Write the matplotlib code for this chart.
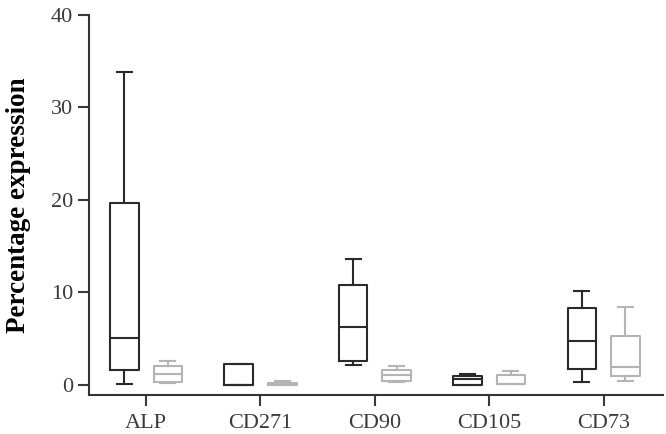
import matplotlib
matplotlib.use("Agg")
import matplotlib.pyplot as plt

# Marker categories
markers = ["ALP", "CD271", "CD90", "CD105", "CD73"]

# Box statistics: black series
black_low = [0.1, 0.0, 2.1, 0.0, 0.3]
black_q1 = [1.6, 0.0, 2.6, 0.0, 1.7]
black_med = [5.1, 0.0, 6.2, 0.6, 4.7]
black_q3 = [19.6, 2.2, 10.8, 1.0, 8.3]
black_high = [33.8, 2.2, 13.6, 1.2, 10.1]

# grey series
grey_low = [0.2, 0.0, 0.3, 0.1, 0.4]
grey_q1 = [0.3, 0.0, 0.4, 0.1, 0.9]
grey_med = [1.2, 0.1, 1.1, 0.1, 1.9]
grey_q3 = [2.0, 0.2, 1.6, 1.1, 5.3]
grey_high = [2.6, 0.4, 2.0, 1.5, 8.4]

BLACK = "#2a2a2a"
GREY = "#b4b4b4"
OFFSET = 0.19


def stats(low, q1, med, q3, high):
    return [dict(whislo=a, q1=b, med=c, q3=d, whishi=e, fliers=[])
            for a, b, c, d, e in zip(low, q1, med, q3, high)]


plt.rcParams["font.family"] = ["Liberation Serif", "DejaVu Serif"]

fig = plt.figure(figsize=(6.66, 4.34), dpi=100)
ax = fig.add_axes([0.1336, 0.0899, 0.8619, 0.8762])

pos = list(range(1, len(markers) + 1))
for st, color, shift in [
    (stats(black_low, black_q1, black_med, black_q3, black_high), BLACK, -OFFSET),
    (stats(grey_low, grey_q1, grey_med, grey_q3, grey_high), GREY, OFFSET),
]:
    lp = dict(color=color, linewidth=1.5)
    ax.bxp(st, positions=[p + shift for p in pos], widths=0.25, capwidths=0.13,
           showfliers=False, boxprops=lp, whiskerprops=lp, capprops=lp,
           medianprops=lp, manage_ticks=False)

ax.set_xlim(0.5, 5.52)
ax.set_ylim(-1.1, 40)
ax.set_xticks(pos)
ax.set_xticklabels(markers)
ax.set_yticks([0, 10, 20, 30, 40])

for s in ["top", "right"]:
    ax.spines[s].set_visible(False)
for s in ["left", "bottom"]:
    ax.spines[s].set_linewidth(1.5)
    ax.spines[s].set_color("#333333")
ax.tick_params(axis="both", direction="out", length=8, width=1.5,
               labelsize=16, colors="#3a3a3a")
ax.tick_params(axis="x", pad=6)
ax.set_ylabel("Percentage expression", fontsize=19.5, fontweight="bold", labelpad=14)

fig.savefig("out.png", dpi=100)
